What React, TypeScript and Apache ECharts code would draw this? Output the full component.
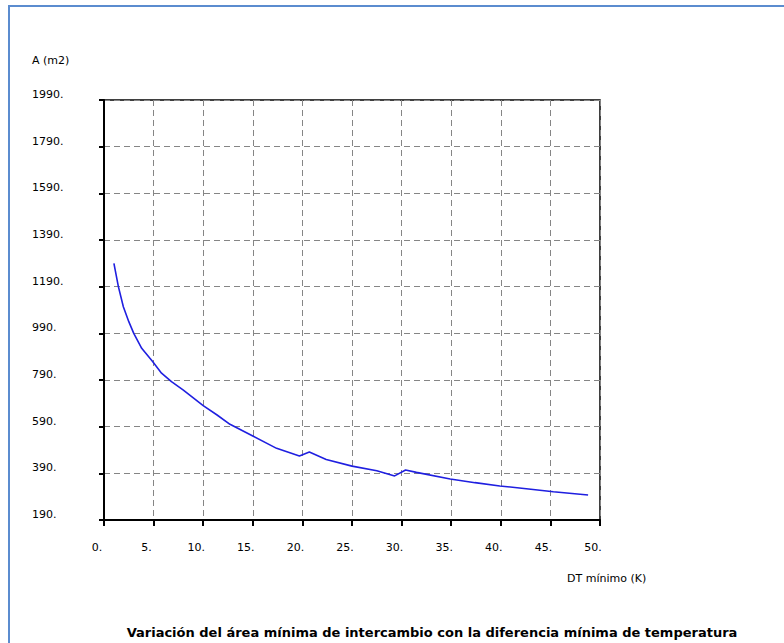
import React, { useEffect, useRef } from "react";
import * as echarts from "echarts";

// DT mínimo (K)
const dtValues = [1.0, 1.45, 1.95, 2.5, 3.0, 3.8, 4.9, 5.8, 6.8, 8.0, 10.0, 11.4, 12.7, 15.0, 17.4, 19.7, 20.7, 22.4, 25.0, 27.5, 29.3, 30.4, 31.5, 34.9, 37.4, 39.9, 42.8, 45.3, 48.8];
// A (m2)
const areaValues = [1290, 1190, 1104, 1040, 990, 926, 869, 819, 783, 747, 680, 640, 600, 550, 497, 464, 481, 449, 421, 401, 379, 404, 394, 366, 350, 336, 323, 311, 297];

const yTicks = [190, 390, 590, 790, 990, 1190, 1390, 1590, 1790, 1990];
const yAxisTitle = "A (m2)";
const xAxisTitle = "DT mínimo (K)";
const chartTitle = "Variación del área mínima de intercambio con la diferencia mínima de temperatura";

const FONT = "'DejaVu Sans', Verdana, sans-serif";

export default function App() {
  const ref = useRef<HTMLDivElement>(null);
  useEffect(() => {
    if (!ref.current) return;
    const chart = echarts.init(ref.current, undefined, { renderer: "svg" });
    const data = dtValues.map((x, i) => [x, areaValues[i]]);
    chart.setOption({
      animation: false,
      backgroundColor: "#ffffff",
      grid: {
        left: 104,
        top: 100,
        right: 184,
        bottom: 123,
        show: true,
        borderColor: "#000",
        borderWidth: 1.5,
        backgroundColor: "transparent",
      },
      xAxis: {
        type: "value",
        min: 0,
        max: 50,
        interval: 5,
        axisLine: { show: true, onZero: false, lineStyle: { color: "#000", width: 2 } },
        axisTick: { show: true, length: 6, lineStyle: { color: "#000", width: 2 } },
        axisLabel: {
          formatter: (v: number) => `${v}.`,
          color: "#000",
          fontFamily: FONT,
          fontSize: 11,
          margin: 22,
          align: "center",
          padding: [0, 14, 0, 0],
        },
        splitLine: { show: true, lineStyle: { color: "#858585", type: [6, 4], width: 1 } },
      },
      yAxis: {
        type: "value",
        min: 190,
        max: 1990,
        axisLine: { show: true, onZero: false, lineStyle: { color: "#000", width: 2 } },
        axisTick: { show: true, length: 5, customValues: yTicks, lineStyle: { color: "#000", width: 2 } },
        axisLabel: {
          customValues: yTicks,
          formatter: (v: number) => `${v}.`,
          color: "#000",
          fontFamily: FONT,
          fontSize: 11,
          margin: 72,
          align: "left",
          verticalAlign: "bottom",
          lineHeight: 11,
        },
        splitLine: { show: true, lineStyle: { color: "#858585", type: [6, 4], width: 1 } },
      },
      series: [
        {
          type: "line",
          data,
          showSymbol: false,
          symbol: "none",
          lineStyle: { color: "#1f1fe0", width: 1.6 },
        },
      ],
      graphic: [
        {
          type: "rect",
          shape: { x: 9, y: 6, width: 800, height: 700 },
          style: { fill: "none", stroke: "#5b8ccf", lineWidth: 2 },
          silent: true,
        },
        {
          type: "text",
          x: 32,
          y: 60,
          style: { text: yAxisTitle, font: `11px ${FONT}`, fill: "#000", verticalAlign: "middle" },
        },
        {
          type: "text",
          x: 567,
          y: 578,
          style: { text: xAxisTitle, font: `11px ${FONT}`, fill: "#000", verticalAlign: "middle" },
        },
        {
          type: "text",
          x: 432,
          y: 632,
          style: {
            text: chartTitle,
            font: `bold 13px ${FONT}`,
            fill: "#000",
            align: "center",
            verticalAlign: "middle",
          },
        },
      ],
    });
    return () => chart.dispose();
  }, []);
  return (
    <div
      ref={ref}
      style={{ position: "fixed", left: 0, top: 0, width: 784, height: 643 }}
    />
  );
}
